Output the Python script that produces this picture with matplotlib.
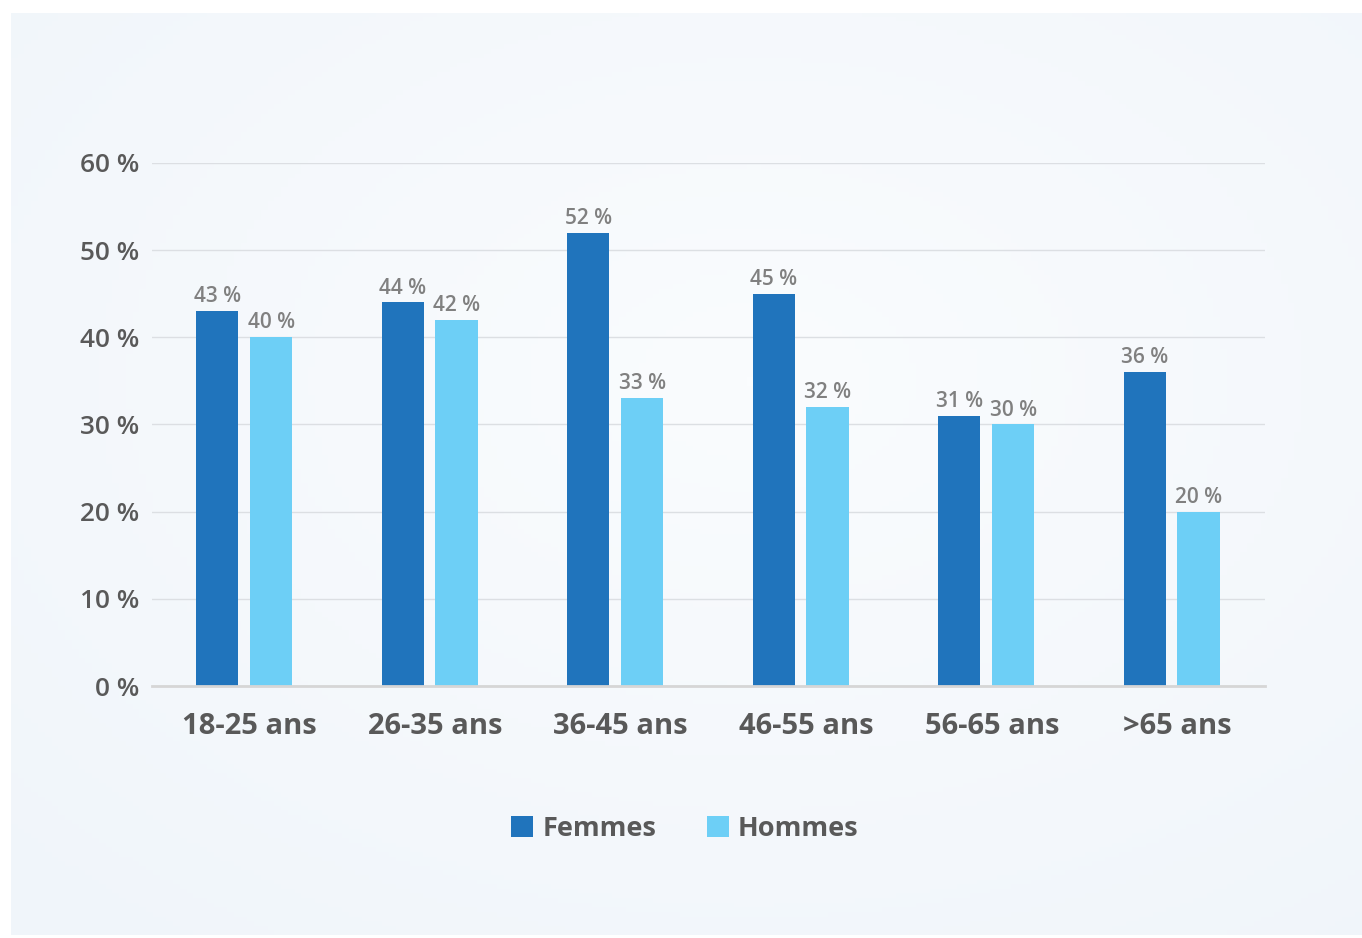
import numpy as np
import matplotlib
matplotlib.use("Agg")
import matplotlib.pyplot as plt
from matplotlib.colors import LinearSegmentedColormap

categories = ["18-25 ans", "26-35 ans", "36-45 ans", "46-55 ans", "56-65 ans", ">65 ans"]
femmes = [43, 44, 52, 45, 31, 36]
hommes = [40, 42, 33, 32, 30, 20]
yticks = [0, 10, 20, 30, 40, 50, 60]
series_names = ["Femmes", "Hommes"]

C_DARK = "#2074BC"
C_LIGHT = "#6DCFF6"
TXT = "#595959"
VAL = "#808080"

plt.rcParams['font.family'] = ['Open Sans', 'DejaVu Sans']

W, H = 1362, 938
fig = plt.figure(figsize=(W / 100, H / 100), dpi=100)
fig.patch.set_facecolor("white")

# background panel with soft gradient
bg = fig.add_axes([11 / W, 3 / H, 1 - 11 / W, 1 - 16 / H], zorder=-10)
bg.set_axis_off()
yy, xx = np.mgrid[0:1:200j, 0:1:200j]
r = np.sqrt((xx - 0.55) ** 2 + (yy - 0.6) ** 2)
cmap = LinearSegmentedColormap.from_list("bgc", ["#FAFCFE", "#F0F5FA"])
bg.imshow(r, cmap=cmap, aspect="auto", extent=[0, 1, 0, 1], origin="lower")
bg.set_xlim(0, 1)
bg.set_ylim(0, 1)

ax = fig.add_axes([152 / W, 1 - 686 / H, (1265 - 152) / W, (686 - 163) / H])
ax.set_facecolor("none")
x = np.arange(len(categories))
bw = 0.228
off = 0.145
shift = -0.003
b1 = ax.bar(x + shift - off, femmes, bw, color=C_DARK, zorder=3, label=series_names[0])
b2 = ax.bar(x + shift + off, hommes, bw, color=C_LIGHT, zorder=3, label=series_names[1])

for bars, vals in ((b1, femmes), (b2, hommes)):
    for rect, v in zip(bars, vals):
        ax.text(rect.get_x() + rect.get_width() / 2, v + 0.45, f"{v} %",
                ha="center", va="bottom", fontsize=15, color=VAL, fontweight="semibold")

ax.set_xlim(-0.5, len(categories) - 0.5)
ax.set_ylim(0, 60)
ax.set_yticks(yticks)
ax.set_yticklabels([f"{t} %" for t in yticks], fontsize=18.8, color=TXT, fontweight="semibold")
label_nudge = 0.027  # labels sit slightly right of the bar-pair centre
ax.set_xticks(x + label_nudge)
ax.set_xticklabels(categories, fontsize=21, color=TXT, fontweight="bold")
ax.tick_params(axis="both", length=0)
ax.tick_params(axis="y", pad=9)
ax.tick_params(axis="x", pad=19)
for s in ["top", "right", "left"]:
    ax.spines[s].set_visible(False)
ax.spines["bottom"].set_color("#D6D6D6")
ax.spines["bottom"].set_linewidth(2)
ax.spines["bottom"].set_zorder(4)
ax.yaxis.grid(True, color="#DCDFE3", linewidth=1, zorder=0)
ax.set_axisbelow(True)

leg = fig.legend(handles=[b1, b2], labels=series_names, loc="center",
                 bbox_to_anchor=(685 / W, 1 - 829 / H), ncol=2, frameon=False,
                 handlelength=0.81, handleheight=0.81, handletextpad=0.33,
                 columnspacing=1.88, prop={"size": 19.5, "weight": "bold"})
for t in leg.get_texts():
    t.set_color(TXT)

fig.savefig("out.png", dpi=100, facecolor="white")
